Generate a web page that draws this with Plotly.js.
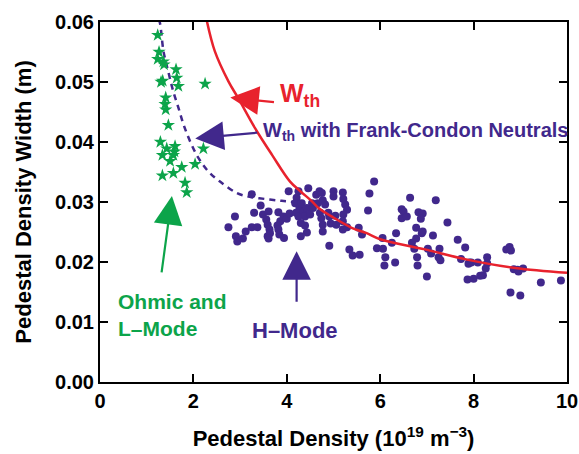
<!DOCTYPE html>
<html>
<head>
<meta charset="utf-8">
<script src="https://cdn.plot.ly/plotly-3.0.1.min.js"></script>
<style>html,body{margin:0;padding:0;background:#fff;}#chart{width:579px;height:454px;}</style>
</head>
<body>
<div id="chart"></div>
<script>
// H-mode data (pedestal density 1e19 m^-3, pedestal width m)
const hModeDensity = [3.25,2.75,2.89,2.91,2.94,3.06,3.12,3.25,3.37,3.30,3.44,3.49,3.61,3.56,3.59,3.63,3.59,3.64,3.61,3.82,3.86,3.80,3.84,3.94,3.93,4.00,4.06,4.04,4.25,4.21,4.18,4.27,4.32,4.20,4.25,4.36,4.43,4.39,4.30,4.39,4.46,4.43,4.30,4.50,4.54,4.63,4.66,4.70,4.75,4.77,4.82,4.56,4.71,4.89,5.00,5.00,5.20,5.21,5.25,5.29,5.21,5.04,4.91,4.94,4.77,4.77,5.06,5.20,5.20,5.29,5.54,5.61,4.91,5.34,5.41,5.56,5.87,5.77,5.74,5.93,4.74,3.82,
  6.05,6.06,6.11,6.09,6.25,6.32,6.34,6.46,6.50,6.46,6.57,6.64,6.82,6.91,6.87,6.77,6.89,6.91,6.77,6.68,6.73,6.79,6.80,7.00,7.02,7.09,7.13,7.19,7.27,7.25,7.29,7.44,7.66,7.82,7.73,7.91,7.89,7.95,8.09,7.87,8.00,8.14,8.20,8.29,8.29,8.26,8.70,8.77,8.80,8.86,8.94,8.96,9.06,8.79,9.00,9.44,9.87];
const hModeWidth = [0.0313,0.0258,0.0276,0.0243,0.0234,0.0239,0.0251,0.0258,0.0258,0.0282,0.0294,0.0279,0.0284,0.0271,0.0262,0.0254,0.0243,0.0248,0.0239,0.0283,0.0268,0.0261,0.0246,0.0240,0.0276,0.0272,0.0281,0.0318,0.0318,0.0307,0.0298,0.0290,0.0298,0.0282,0.0276,0.0284,0.0290,0.0276,0.0265,0.0261,0.0323,0.0249,0.0243,0.0279,0.0298,0.0312,0.0298,0.0318,0.0315,0.0303,0.0296,0.0290,0.0282,0.0282,0.0318,0.0309,0.0316,0.0305,0.0296,0.0287,0.0279,0.0277,0.0276,0.0264,0.0262,0.0251,0.0262,0.0268,0.0254,0.0258,0.0257,0.0246,0.0227,0.0221,0.0211,0.0212,0.0334,0.0314,0.0286,0.0223,0.0273,0.0254,
  0.0240,0.0222,0.0208,0.0194,0.0232,0.0199,0.0248,0.0288,0.0284,0.0273,0.0276,0.0307,0.0283,0.0281,0.0272,0.0257,0.0248,0.0251,0.0239,0.0232,0.0222,0.0208,0.0194,0.0176,0.0222,0.0214,0.0244,0.0303,0.0222,0.0208,0.0203,0.0266,0.0237,0.0224,0.0205,0.0199,0.0197,0.0199,0.0199,0.0171,0.0172,0.0177,0.0178,0.0208,0.0198,0.0189,0.0221,0.0225,0.0219,0.0188,0.0187,0.0184,0.0189,0.0149,0.0144,0.0166,0.0169];

// Ohmic and L-mode data
const lModeDensity = [1.236,1.264,1.236,1.357,1.371,1.628,1.343,1.643,1.678,1.307,2.25,1.407,1.393,1.407,1.464,1.293,1.429,1.607,1.593,1.336,1.571,1.50,2.214,2.036,1.75,1.336,1.571,1.821,1.857];
const lModeWidth = [0.0578,0.0550,0.0538,0.0534,0.0529,0.0521,0.0502,0.0507,0.0493,0.0500,0.0497,0.0474,0.0463,0.0454,0.0428,0.0400,0.0389,0.0393,0.0384,0.0378,0.0378,0.0368,0.0389,0.0363,0.0358,0.0344,0.0348,0.0332,0.0316];

// W_th model curve
const wthDensity = [2.29,2.46,2.75,2.96,3.32,3.68,4.07,4.29,4.54,4.68,5.0,5.39,5.71,6.0,6.96,7.86,8.89,10.0];
const wthWidth = [0.0601,0.0551,0.0501,0.0473,0.0423,0.0379,0.0334,0.0318,0.0301,0.0290,0.0274,0.0257,0.0248,0.0238,0.0221,0.0204,0.0190,0.0182];

// W_th with Frank-Condon neutrals curve
const fcDensity = [1.26,1.29,1.36,1.46,1.57,1.68,1.79,1.93,2.11,2.32,2.57,2.93,3.18,3.54,3.89,4.18];
const fcWidth = [0.0605,0.0596,0.0551,0.0518,0.0484,0.0457,0.0429,0.0401,0.0373,0.0351,0.0334,0.0315,0.0309,0.0305,0.0302,0.0300];

const xTicks = [0,2,4,6,8,10];
const yTicks = [0,0.01,0.02,0.03,0.04,0.05,0.06];

const RED = '#e8222d', INDIGO = '#41288c', GREEN = '#0ca44a';
const FONT = 'Liberation Sans, Arial, Helvetica, sans-serif';

const traces = [
  {x: fcDensity, y: fcWidth, mode: 'lines', line: {color: INDIGO, width: 2.5, dash: '6px,5px', shape: 'spline'}, hoverinfo: 'skip'},
  {x: lModeDensity, y: lModeWidth, mode: 'markers', marker: {symbol: 'star', size: 10, color: GREEN}},
  {x: hModeDensity, y: hModeWidth, mode: 'markers', marker: {symbol: 'circle', size: 8, color: INDIGO}},
  {x: wthDensity, y: wthWidth, mode: 'lines', line: {color: RED, width: 2.5, shape: 'spline'}}
];

function arrow(x, y, ax, ay, color) {
  return {x: x, y: y, ax: ax, ay: ay, xref: 'x', yref: 'y', axref: 'x', ayref: 'y', text: ' ',
    showarrow: true, arrowhead: 2, arrowsize: 2.6, arrowwidth: 2.2, arrowcolor: color, standoff: 0, startstandoff: 0};
}

const annotations = [
  arrow(2.79, 0.0474, 3.79, 0.0466, RED),
  {x: 3.82, y: 0.0478, xref: 'x', yref: 'y', text: 'W<sub>th</sub>', showarrow: false, xanchor: 'left', yanchor: 'middle', font: {family: FONT, size: 25, color: RED, weight: 'bold'}},
  arrow(2.04, 0.0406, 3.43, 0.0416, INDIGO),
  {x: 3.45, y: 0.0418, xref: 'x', yref: 'y', text: 'W<sub>th</sub> with Frank-Condon Neutrals', showarrow: false, xanchor: 'left', yanchor: 'middle', font: {family: FONT, size: 20, color: INDIGO, weight: 'bold'}},
  arrow(1.54, 0.0310, 1.29, 0.0166, GREEN),
  {x: 0.34, y: 0.0112, xref: 'x', yref: 'y', text: 'Ohmic and<br>L\u2013Mode', align: 'left', showarrow: false, xanchor: 'left', yanchor: 'middle', font: {family: FONT, size: 21, color: GREEN, weight: 'bold'}},
  arrow(4.21, 0.0218, 4.21, 0.0117, INDIGO),
  {x: 4.18, y: 0.0086, xref: 'x', yref: 'y', text: 'H\u2013Mode', showarrow: false, xanchor: 'center', yanchor: 'middle', font: {family: FONT, size: 22, color: INDIGO, weight: 'bold'}}
];

const axisCommon = {
  showline: true, linewidth: 2, linecolor: '#000', mirror: 'allticks', ticks: 'inside', ticklen: 8, tickwidth: 2, tickcolor: '#000',
  showgrid: false, zeroline: false, tickfont: {family: FONT, size: 20, color: '#000', weight: 'bold'}
};

const layout = {
  width: 579, height: 454,
  margin: {l: 100, r: 12, t: 22, b: 72},
  paper_bgcolor: '#fff', plot_bgcolor: '#fff', showlegend: false,
  xaxis: Object.assign({}, axisCommon, {range: [0, 10], tickvals: xTicks, ticktext: xTicks.map(String),
    title: {text: 'Pedestal Density (10<sup>19</sup> m<sup>\u22123</sup>)', font: {family: FONT, size: 22, color: '#000', weight: 'bold'}, standoff: 20}}),
  yaxis: Object.assign({}, axisCommon, {range: [0, 0.06], tickvals: yTicks, ticktext: yTicks.map(v => v.toFixed(2)),
    title: {text: 'Pedestal Density Width (m)', font: {family: FONT, size: 22, color: '#000', weight: 'bold'}, standoff: 17}}),
  annotations: annotations
};

Plotly.newPlot('chart', traces, layout, {displayModeBar: false, staticPlot: true});
</script>
</body>
</html>
